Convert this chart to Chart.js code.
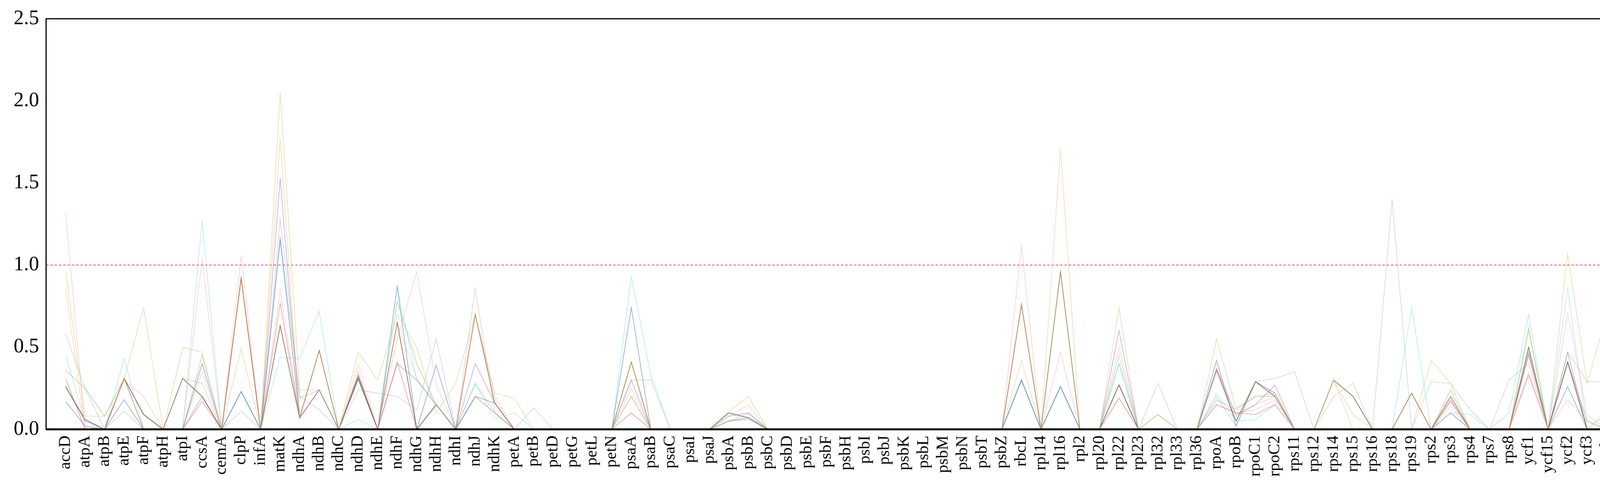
<!DOCTYPE html>
<html>
<head>
<meta charset="utf-8">
<script src="https://cdn.jsdelivr.net/npm/chart.js@4.4.0/dist/chart.umd.min.js"></script>
<style>
  html, body { margin: 0; padding: 0; background: #fff; overflow: hidden; }
  #wrap { position: relative; width: 4171px; height: 1262px; }
</style>
</head>
<body>
<div id="wrap"><canvas id="c"></canvas></div>
<script>
const genes = ['accD','atpA','atpB','atpE','atpF','atpH','atpI','ccsA','cemA','clpP',
  'infA','matK','ndhA','ndhB','ndhC','ndhD','ndhE','ndhF','ndhG','ndhH',
  'ndhI','ndhJ','ndhK','petA','petB','petD','petG','petL','petN','psaA',
  'psaB','psaC','psaI','psaJ','psbA','psbB','psbC','psbD','psbE','psbF',
  'psbH','psbI','psbJ','psbK','psbL','psbM','psbN','psbT','psbZ','rbcL',
  'rpl14','rpl16','rpl2','rpl20','rpl22','rpl23','rpl32','rpl33','rpl36','rpoA',
  'rpoB','rpoC1','rpoC2','rps11','rps12','rps14','rps15','rps16','rps18','rps19',
  'rps2','rps3','rps4','rps7','rps8','ycf1','ycf15','ycf2','ycf3','ycf4'];

const yTicks = [0, 0.5, 1.0, 1.5, 2.0, 2.5];
const threshold = 1.0;

const s1 = [1.32,0,0.02,0.30,0.20,0,0,1.04,0,1.05,
  0,0.85,0.07,0.24,0,0.35,0,0.55,0.96,0.27,
  0,0.70,0.20,0,0,0,0,0,0,0.20,
  0,0,0,0,0.05,0.08,0,0,0,0,
  0,0,0,0,0,0,0,0,0,1.12,
  0,0.47,0,0,0.19,0,0,0,0,0.15,
  0.10,0.12,0.18,0,0,0,0,0,0,0,
  0,0.14,0,0,0,0.35,0,0.71,0.09,0];
const s2 = [0.45,0.05,0,0.43,0,0,0,1.27,0,0.23,
  0,0.44,0.43,0.72,0,0.06,0,0.87,0.30,0.15,
  0,0.28,0.06,0.10,0,0,0,0,0,0.93,
  0.33,0,0,0,0.10,0.07,0,0,0,0,
  0,0,0,0,0,0,0,0,0,0.30,
  0,0.26,0,0,0.40,0,0,0,0,0.22,
  0.05,0.06,0.15,0,0,0,0,0,0,0.74,
  0,0.10,0.09,0,0.10,0.70,0,0.86,0,0];
const s3 = [0.96,0.08,0.08,0.31,0.74,0,0.50,0.47,0,0.49,
  0,2.05,0.24,0.24,0,0.47,0.30,0.70,0.50,0.10,
  0.28,0.70,0.22,0.19,0,0,0,0,0,0.41,
  0,0,0,0,0.11,0.20,0,0,0,0,
  0,0,0,0,0,0,0,0,0,0.42,
  0,0.96,0,0,0.74,0,0.09,0,0,0.55,
  0.13,0.20,0.22,0,0,0.30,0.09,0,0,0,
  0.42,0.28,0,0,0,0.60,0,1.07,0.28,0.70];
const s4 = [0.86,0,0,0.31,0,0,0,0.35,0,0.92,
  0,1.77,0.07,0.48,0,0.40,0,0.65,0.31,0.15,
  0,0.70,0.16,0,0,0,0,0,0,0.25,
  0,0,0,0,0.08,0.15,0,0,0,0,
  0,0,0,0,0,0,0,0,0,0.76,
  0,1.71,0,0,0.50,0,0,0,0,0.36,
  0.08,0.15,0.20,0,0,0.30,0,0,0,0.22,
  0,0.20,0,0,0,0.45,0,0.18,0.05,0];
const s5 = [0.58,0.25,0,0.11,0,0,0.31,0.28,0,0.11,
  0,1.28,0.20,0.12,0,0.24,0.22,0.20,0.12,0.55,
  0,0.86,0.10,0,0.13,0,0,0,0,0.30,
  0.30,0,0,0,0.05,0.10,0,0,0,0,
  0,0,0,0,0,0,0,0,0,0.76,
  0,0.96,0,0,0.45,0,0.28,0,0,0.20,
  0.02,0.29,0.31,0.35,0,0.20,0.28,0,1.40,0,
  0.29,0.28,0.12,0,0.30,0.40,0,0.47,0.29,0.29];
const s6 = [0.26,0.06,0,0.31,0.09,0,0.31,0.20,0,0.92,
  0,0.63,0.07,0.48,0,0.31,0,0.65,0,0.15,
  0,0.70,0.16,0,0,0,0,0,0,0.41,
  0,0,0,0,0.10,0.07,0,0,0,0,
  0,0,0,0,0,0,0,0,0,0.76,
  0,0.96,0,0,0.27,0,0,0,0,0.36,
  0.05,0.29,0.20,0,0,0.30,0.20,0,0,0.22,
  0,0.20,0,0,0,0.50,0,0.41,0,0];
const s7 = [0.17,0.02,0,0.18,0,0,0,0.40,0,0.23,
  0,1.16,0.07,0.24,0,0.32,0,0.87,0,0.39,
  0,0.20,0.16,0,0,0,0,0,0,0.74,
  0,0,0,0,0.10,0.07,0,0,0,0,
  0,0,0,0,0,0,0,0,0,0.30,
  0,0.26,0,0,0.27,0,0,0,0,0.42,
  0.02,0.29,0.22,0,0,0,0,0,0,0,
  0,0.10,0,0,0,0.47,0,0.26,0,0];
const s8 = [0.26,0.05,0,0.31,0.09,0,0,0.20,0,0.23,
  0,1.53,0.07,0.24,0,0.33,0,0.40,0.30,0.15,
  0,0.40,0.16,0,0,0,0,0,0,0.30,
  0,0,0,0,0.08,0.10,0,0,0,0,
  0,0,0,0,0,0,0,0,0,0.30,
  0,0.26,0,0,0.60,0,0,0,0,0.37,
  0.09,0.15,0.27,0,0,0,0,0,0,0,
  0,0.18,0,0,0,0.45,0,0.47,0,0];
const s9 = [0.36,0.25,0.08,0.31,0,0,0,0.45,0,0.23,
  0,1.16,0.19,0.24,0,0.30,0,0.78,0.40,0.15,
  0,0.28,0.10,0,0,0,0,0,0,0.20,
  0,0,0,0,0.05,0.06,0,0,0,0,
  0,0,0,0,0,0,0,0,0,0.30,
  0,0.26,0,0,0.40,0,0.09,0,0,0.18,
  0.12,0.20,0.20,0,0,0,0,0,0,0,
  0,0.24,0,0,0,0.62,0,0.41,0,0.10];
const s10 = [0.31,0,0,0.31,0,0,0,0.17,0,0.92,
  0,0.77,0.07,0.24,0,0.33,0,0.41,0,0.15,
  0,0.20,0.10,0,0,0,0,0,0,0.10,
  0,0,0,0,0.05,0.07,0,0,0,0,
  0,0,0,0,0,0,0,0,0,0.30,
  0,0.26,0,0,0.19,0,0,0,0,0.15,
  0.10,0.09,0.15,0,0,0,0,0,0,0,
  0,0.17,0,0,0,0.33,0,0.41,0.05,0];

const seriesList = [s1, s2, s3, s4, s5, s6, s7, s8, s9, s10];
const colours = [
  'rgba(255,130,140,0.35)', 'rgba(80,215,225,0.4)', 'rgba(205,190,90,0.45)',
  'rgba(255,160,90,0.4)', 'rgba(150,150,150,0.35)', 'rgba(110,80,30,0.8)',
  'rgba(60,110,200,0.55)', 'rgba(150,100,200,0.5)', 'rgba(100,185,100,0.45)',
  'rgba(200,70,70,0.45)'
];
const serif = "'Liberation Serif', 'Times New Roman', serif";

const toPoints = arr => arr.map((v, i) => ({ x: i, y: v }));

const datasets = seriesList.map((arr, k) => ({
  data: toPoints(arr),
  borderColor: colours[k],
  borderWidth: 1.8,
  pointRadius: 0,
  tension: 0
}));

// dashed reference line across the whole plot
const refLine = [{ x: -1, y: threshold }, { x: genes.length, y: threshold }];
datasets.push({
  data: refLine,
  borderColor: '#f07070',
  borderWidth: 2.5,
  borderDash: [6, 5],
  pointRadius: 0
});

const frame = {
  id: 'frame',
  afterDraw(chart) {
    const { ctx, chartArea: a } = chart;
    ctx.save();
    ctx.strokeStyle = '#000';
    ctx.lineWidth = 3;
    ctx.strokeRect(a.left, a.top, a.right - a.left, a.bottom - a.top);
    ctx.lineWidth = 5;
    ctx.beginPath();
    ctx.moveTo(a.left, a.bottom);
    ctx.lineTo(a.right, a.bottom);
    ctx.stroke();
    ctx.restore();
  }
};

new Chart(document.getElementById('c'), {
  type: 'line',
  data: { datasets },
  plugins: [frame],
  options: {
    responsive: true,
    maintainAspectRatio: false,
    devicePixelRatio: 1,
    animation: false,
    layout: { padding: { top: 48, right: 8, left: 0, bottom: 0 } },
    plugins: { legend: { display: false }, tooltip: { enabled: false } },
    scales: {
      x: {
        type: 'linear',
        min: -1,
        max: genes.length,
        afterBuildTicks: axis => { axis.ticks = genes.map((g, i) => ({ value: i })); },
        afterFit: axis => { axis.height = 163; },
        grid: { display: false, drawTicks: true, tickLength: 12, tickWidth: 3, tickColor: '#000' },
        border: { display: false },
        ticks: {
          autoSkip: false,
          minRotation: 90,
          maxRotation: 90,
          color: '#000',
          padding: 4,
          font: { family: serif, size: 42 },
          callback: v => genes[v] ?? ''
        }
      },
      y: {
        min: 0,
        max: 2.5,
        afterBuildTicks: axis => { axis.ticks = yTicks.map(v => ({ value: v })); },
        afterFit: axis => { axis.width = 118; },
        grid: { display: false, drawTicks: true, tickLength: 12, tickWidth: 3, tickColor: '#000' },
        border: { display: false },
        ticks: {
          color: '#000',
          padding: 6,
          font: { family: serif, size: 52 },
          callback: v => v.toFixed(1)
        }
      }
    }
  }
});
</script>
</body>
</html>
